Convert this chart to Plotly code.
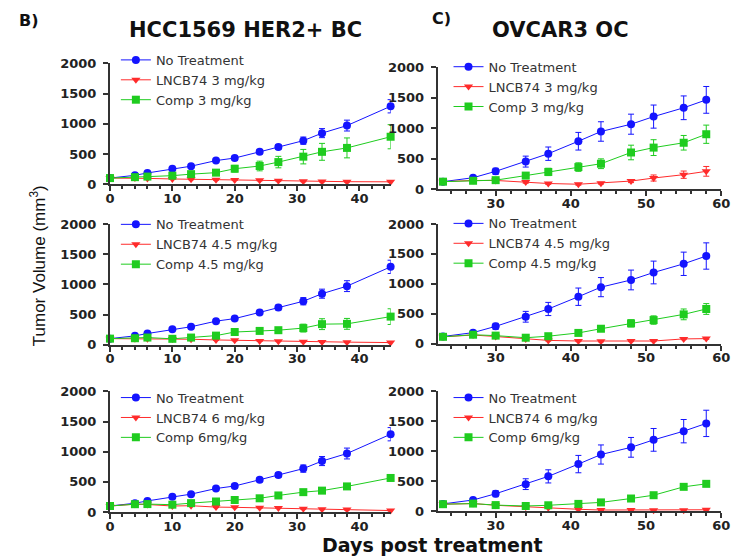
import plotly.graph_objects as go

# ---- data -------------------------------------------------------------
hcc_days = [0, 4, 6, 10, 13, 17, 20, 24, 27, 31, 34, 38, 45]
hcc_ctrl = [100, 146, 185, 255, 297, 390, 432, 535, 615, 720, 845, 970, 1290]
hcc_ctrl_err = [10, 15, 20, 20, 25, 30, 30, 35, 40, 60, 75, 90, 110]

hcc_lncb_3 = [100, 100, 95, 85, 80, 72, 68, 62, 56, 46, 44, 40, 38]
hcc_lncb_3_err = [8, 8, 8, 8, 8, 8, 8, 8, 8, 8, 8, 8, 8]
hcc_comp_3 = [100, 115, 125, 140, 165, 190, 255, 300, 365, 455, 535, 600, 785]
hcc_comp_3_err = [10, 15, 20, 25, 30, 45, 55, 80, 95, 120, 140, 165, 200]

hcc_lncb_45 = [100, 100, 100, 95, 90, 78, 72, 62, 58, 50, 45, 42, 35]
hcc_lncb_45_err = [8, 8, 8, 8, 8, 8, 8, 8, 8, 8, 8, 8, 8]
hcc_comp_45 = [100, 107, 118, 97, 118, 150, 210, 228, 240, 275, 340, 345, 465]
hcc_comp_45_err = [10, 10, 15, 15, 20, 25, 35, 40, 40, 65, 90, 90, 130]

hcc_lncb_6 = [100, 130, 125, 100, 105, 82, 78, 70, 67, 55, 47, 42, 25]
hcc_lncb_6_err = [8, 10, 10, 8, 8, 8, 8, 8, 8, 8, 8, 8, 8]
hcc_comp_6 = [100, 130, 132, 122, 148, 175, 200, 228, 275, 330, 355, 425, 565]
hcc_comp_6_err = [10, 15, 15, 15, 15, 20, 20, 20, 25, 25, 30, 35, 45]

ov_days = [23, 27, 30, 34, 37, 41, 44, 48, 51, 55, 58]
ov_ctrl = [120, 185, 290, 450, 580, 785, 945, 1065, 1190, 1335, 1465]
ov_ctrl_err = [20, 30, 50, 90, 110, 145, 160, 165, 190, 195, 220]

ov_lncb_3 = [120, 140, 140, 115, 90, 78, 95, 130, 180, 235, 290]
ov_lncb_3_err = [15, 15, 15, 20, 15, 15, 15, 25, 50, 60, 80]
ov_comp_3 = [120, 135, 145, 220, 280, 360, 415, 600, 680, 760, 900]
ov_comp_3_err = [15, 20, 25, 50, 60, 70, 80, 120, 130, 120, 150]

ov_lncb_45 = [115, 145, 120, 78, 55, 45, 40, 45, 45, 80, 85]
ov_lncb_45_err = [10, 10, 10, 10, 10, 10, 10, 10, 10, 12, 12]
ov_comp_45 = [115, 150, 135, 100, 125, 180, 250, 340, 395, 490, 580]
ov_comp_45_err = [15, 15, 15, 15, 20, 30, 40, 60, 70, 90, 90]

ov_lncb_6 = [115, 125, 97, 70, 55, 30, 18, 17, 12, 12, 22]
ov_lncb_6_err = [10, 10, 10, 10, 10, 8, 8, 8, 8, 8, 8]
ov_comp_6 = [115, 125, 100, 85, 97, 120, 145, 210, 265, 405, 455]
ov_comp_6_err = [10, 10, 10, 10, 12, 15, 15, 20, 20, 25, 25]

ctrl_name = "No Treatment"
lncb_names = ["LNCB74 3 mg/kg", "LNCB74 4.5 mg/kg", "LNCB74 6 mg/kg"]
comp_names = ["Comp 3 mg/kg", "Comp 4.5 mg/kg", "Comp 6mg/kg"]

# ---- styling ----------------------------------------------------------
W, H = 746, 558
BLUE, RED, GREEN = "#1414ff", "#ff2b2b", "#1fcc1f"
TICK_FONT = dict(family="DejaVu Sans", size=13, color="#222222", weight="bold")
AXIS_COLOR = "#333333"

# panel layout in pixel coordinates: x span, y span (top, bottom), legend corner
panels = [
    # left column (HCC1569)
    dict(px=(107, 393), py=(58, 182), xr=[0, 45], leg=(113, 39)),
    dict(px=(107, 393), py=(223, 347), xr=[0, 45], leg=(113, 208)),
    dict(px=(107, 393), py=(395, 519), xr=[0, 45], leg=(113, 386)),
    # right column (OVCAR3)
    dict(px=(441, 730), py=(62, 187), xr=[22.3, 60], leg=(452, 46)),
    dict(px=(441, 730), py=(223, 346), xr=[22.3, 60], leg=(452, 207)),
    dict(px=(441, 730), py=(395, 518), xr=[22.3, 60], leg=(452, 386)),
]

series = [
    (hcc_days, hcc_ctrl, hcc_ctrl_err, hcc_lncb_3, hcc_lncb_3_err, hcc_comp_3, hcc_comp_3_err, 0),
    (hcc_days, hcc_ctrl, hcc_ctrl_err, hcc_lncb_45, hcc_lncb_45_err, hcc_comp_45, hcc_comp_45_err, 1),
    (hcc_days, hcc_ctrl, hcc_ctrl_err, hcc_lncb_6, hcc_lncb_6_err, hcc_comp_6, hcc_comp_6_err, 2),
    (ov_days, ov_ctrl, ov_ctrl_err, ov_lncb_3, ov_lncb_3_err, ov_comp_3, ov_comp_3_err, 0),
    (ov_days, ov_ctrl, ov_ctrl_err, ov_lncb_45, ov_lncb_45_err, ov_comp_45, ov_comp_45_err, 1),
    (ov_days, ov_ctrl, ov_ctrl_err, ov_lncb_6, ov_lncb_6_err, ov_comp_6, ov_comp_6_err, 2),
]


def trace(x, y, err, name, color, symbol, xa, ya, leg):
    return go.Scatter(
        x=x, y=y, name=name, mode="lines+markers",
        line=dict(color=color, width=1),
        marker=dict(color=color, symbol=symbol, size=8),
        error_y=dict(type="data", array=err, color=color, thickness=1, width=3),
        xaxis=xa, yaxis=ya, legend=leg, cliponaxis=False,
    )


fig = go.Figure()
layout = {}
for i, (p, s) in enumerate(zip(panels, series), start=1):
    days, ctrl, ctrl_e, lncb, lncb_e, comp, comp_e, k = s
    xa, ya = ("x" if i == 1 else f"x{i}"), ("y" if i == 1 else f"y{i}")
    leg = "legend" if i == 1 else f"legend{i}"
    fig.add_trace(trace(days, ctrl, ctrl_e, ctrl_name, BLUE, "circle", xa, ya, leg))
    fig.add_trace(trace(days, lncb, lncb_e, lncb_names[k], RED, "triangle-down", xa, ya, leg))
    fig.add_trace(trace(days, comp, comp_e, comp_names[k], GREEN, "square", xa, ya, leg))

    xkey = "xaxis" if i == 1 else f"xaxis{i}"
    ykey = "yaxis" if i == 1 else f"yaxis{i}"
    layout[xkey] = dict(
        domain=[p["px"][0] / W, p["px"][1] / W], anchor=ya, range=p["xr"],
        dtick=10, tick0=0, ticks="outside", ticklen=5, tickwidth=2,
        tickcolor=AXIS_COLOR, showline=True, linecolor=AXIS_COLOR, linewidth=2,
        showgrid=False, zeroline=False, tickfont=TICK_FONT, ticklabelstandoff=-4,
        minor=dict(dtick=2, tick0=0, ticks="outside", ticklen=3, tickwidth=1.5,
                   tickcolor=AXIS_COLOR, showgrid=False),
    )
    layout[ykey] = dict(
        domain=[1 - p["py"][1] / H, 1 - p["py"][0] / H], anchor=xa,
        range=[0, 2000], dtick=500, ticks="outside", ticklen=5, tickwidth=2,
        tickcolor=AXIS_COLOR, showline=True, linecolor=AXIS_COLOR, linewidth=2,
        showgrid=False, zeroline=False, tickfont=TICK_FONT, ticklabelstandoff=4,
    )
    layout[leg] = dict(
        x=p["leg"][0] / W, y=1 - p["leg"][1] / H, xanchor="left", yanchor="top",
        bgcolor="rgba(0,0,0,0)", font=dict(family="DejaVu Sans", size=13, color="#333333"),
        tracegroupgap=0, itemwidth=30,
    )

fig.update_layout(
    width=W, height=H, margin=dict(l=0, r=0, t=0, b=0),
    paper_bgcolor="white", plot_bgcolor="white", showlegend=True,
    **layout,
)

annotations = [
    dict(text="B)", x=13 / W, y=1 - 14 / H, size=16, anchor="left"),
    dict(text="HCC1569 HER2+ BC", x=245 / W, y=1 - 24 / H, size=21, anchor="center"),
    dict(text="C)", x=434 / W, y=1 - 12 / H, size=16, anchor="left"),
    dict(text="OVCAR3 OC", x=566 / W, y=1 - 24 / H, size=21, anchor="center"),
    dict(text="Days post treatment", x=436 / W, y=1 - 553 / H, size=19, anchor="center"),
]
for a in annotations:
    fig.add_annotation(
        text=a["text"], x=a["x"], y=a["y"], xref="paper", yref="paper",
        xanchor=a["anchor"], yanchor="middle", showarrow=False, borderpad=0,
        font=dict(family="DejaVu Sans", size=a["size"], color="#111111", weight="bold"),
    )

fig.add_annotation(
    text="Tumor Volume (mm<sup>3</sup>)", x=33 / W, y=1 - 266 / H,
    xref="paper", yref="paper", textangle=-90, showarrow=False,
    xanchor="center", yanchor="middle",
    font=dict(family="Liberation Sans", size=17, color="#111111"),
)

fig.write_html("out.html")
